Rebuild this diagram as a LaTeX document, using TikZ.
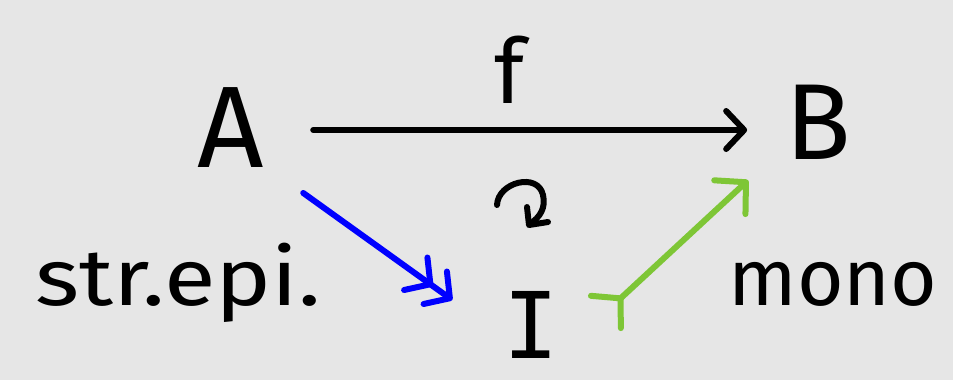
\documentclass[tikz,border=0pt]{standalone}
\usepackage{fontspec}
\setmainfont{Fira Sans}
\newfontfamily\barfont{DejaVu Sans Mono}
\usetikzlibrary{arrows.meta}
\definecolor{bg}{HTML}{E6E6E6}
\definecolor{grn}{HTML}{7EC636}
\definecolor{blu}{HTML}{0000FF}
\begin{document}
\begin{tikzpicture}[x=1pt,y=-1pt, line width=6pt, line cap=round, line join=round,
  obj/.style={font=\fontsize{105}{105}\selectfont, inner sep=0pt},
  lbl/.style={font=\fontsize{80}{80}\selectfont, inner sep=0pt}]
\fill[bg] (0,0) rectangle (953,380);
\useasboundingbox (0,0) rectangle (953,380);
\node[obj, font=\fontsize{116}{116}\selectfont] (A) at (231,128) {A};
\node[obj, font=\fontsize{108}{108}\selectfont] (B) at (818,122) {B};
\node[obj, font=\barfont\fontsize{92}{92}\selectfont] (I) at (531,325) {I};
\node[obj, font=\fontsize{90}{90}\selectfont] (f) at (510,70) {f};
\node[lbl, anchor=base, xscale=1.18] (se) at (178,305) {str.epi.};
\node[lbl, anchor=base] (mono) at (833,305) {mono};
% f arrow
\draw[-{Straight Barb[length=18pt,width=38pt,line cap=round,line join=round]}]
  ([shift={(46,2)}]A.east) -- ([shift={(-35,8)}]B.west);
% strong epi
\draw[blu, -{Straight Barb[length=18pt,width=40pt,line cap=round,line join=round]Straight Barb[length=18pt,width=40pt,line cap=round,line join=round]}]
  ([shift={(36,22)}]A.south east) -- ([shift={(-48,-25)}]I.west);
% mono
\draw[grn, {Straight Barb[reversed,length=20pt,width=44pt,line cap=round,line join=round]}-{Straight Barb[length=22pt,width=46pt,line cap=round,line join=round]}]
  ([shift={(42,-11)}]I.east) -- ([shift={(-34,18)}]B.south west);
% commutes symbol
\draw (497,205) .. controls (498,182) and (538,172) .. (543,195)
  .. controls (546,208) and (540,217) .. (530,224);
\draw (527,207) -- (529,225) -- (548,222);
\end{tikzpicture}
\end{document}
